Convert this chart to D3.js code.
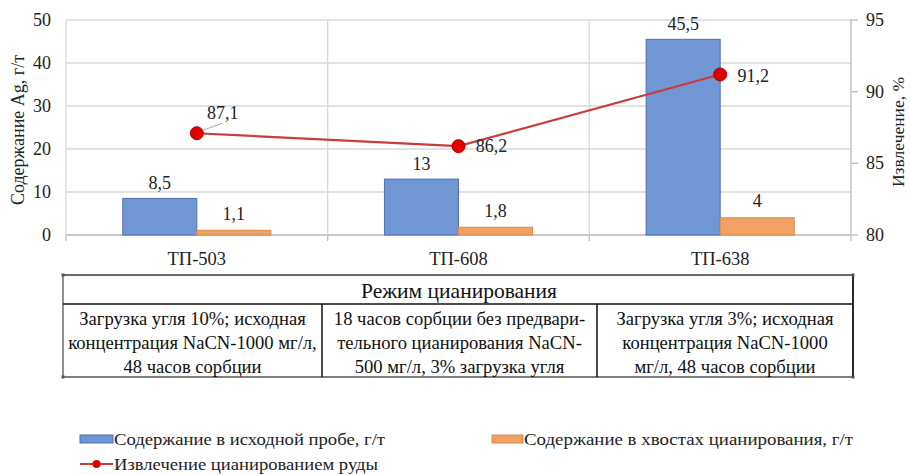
<!DOCTYPE html>
<html><head><meta charset="utf-8">
<script src="https://cdn.jsdelivr.net/npm/d3@7"></script>
<style>
html,body{margin:0;padding:0;background:#fff;}
svg{display:block;}
</style></head>
<body><svg id="c" width="910" height="475"></svg>
<script>
const categories = ["ТП-503", "ТП-608", "ТП-638"];
const initialContent = [8.5, 13, 45.5];
const tailsContent = [1.1, 1.8, 4];
const recovery = [87.1, 86.2, 91.2];
const leftTicks = [0, 10, 20, 30, 40, 50];
const rightTicks = [80, 85, 90, 95];
const seriesNames = ["Содержание в исходной пробе, г/т", "Содержание в хвостах  цианирования, г/т", "Извлечение цианированием руды"];
const leftTitle = "Содержание Ag, г/т";
const rightTitle = "Извлечение, %";
const tableHeader = "Режим цианирования";
const tableCells = [
  ["Загрузка угля 10%; исходная", "концентрация NaCN-1000 мг/л,", "48 часов сорбции"],
  ["18 часов сорбции без предвари-", "тельного цианирования NaCN-", "500 мг/л, 3% загрузка угля"],
  ["Загрузка угля 3%; исходная", "концентрация NaCN-1000", "мг/л, 48 часов сорбции"]
];
const fmt = v => String(v).replace(".", ",");

const svg = d3.select("#c");
const L = 66, R = 851, T = 20, B = 235;
const x = d3.scaleBand().domain(categories).range([L, R]).padding(0);
const bw = x.bandwidth();
const x1 = d3.scaleBand().domain(["a", "b"]).range([bw * 0.217, bw * 0.783]).padding(0);
const yL = d3.scaleLinear().domain([0, 50]).range([B, T]);
const yR = d3.scaleLinear().domain([80, 95]).range([B, T]);

// gridlines
svg.append("g").selectAll("line").data(leftTicks).join("line")
  .attr("x1", L).attr("x2", R).attr("y1", d => yL(d)).attr("y2", d => yL(d))
  .attr("stroke", "#d9d9d9").attr("stroke-width", 1.3);
svg.append("g").selectAll("line").data(categories.slice(1)).join("line")
  .attr("x1", d => x(d)).attr("x2", d => x(d)).attr("y1", T).attr("y2", B)
  .attr("stroke", "#d9d9d9").attr("stroke-width", 1.3);
svg.append("line").attr("x1", L).attr("x2", L).attr("y1", T).attr("y2", B).attr("stroke", "#d9d9d9").attr("stroke-width", 1.3);

// x axis line + ticks
svg.append("line").attr("x1", L).attr("x2", R).attr("y1", B).attr("y2", B).attr("stroke", "#bfbfbf").attr("stroke-width", 1.3);
svg.append("g").selectAll("line").data([...categories.map(c => x(c)), R]).join("line")
  .attr("x1", d => d).attr("x2", d => d).attr("y1", B).attr("y2", B + 6).attr("stroke", "#bfbfbf").attr("stroke-width", 1.3);

// right axis line + ticks
svg.append("line").attr("x1", R).attr("x2", R).attr("y1", T).attr("y2", B).attr("stroke", "#bfbfbf").attr("stroke-width", 1.3);
svg.append("g").selectAll("line").data(rightTicks).join("line")
  .attr("x1", R).attr("x2", R + 7).attr("y1", d => yR(d)).attr("y2", d => yR(d)).attr("stroke", "#bfbfbf").attr("stroke-width", 1.3);

// tick labels
svg.append("g").selectAll("text").data(leftTicks).join("text")
  .attr("x", 51).attr("y", d => yL(d) + 6).attr("text-anchor", "end")
  .attr("font-size", 18).attr("fill", "#222").text(d => d);
svg.append("g").selectAll("text").data(rightTicks).join("text")
  .attr("x", 866).attr("y", d => yR(d) + 6).attr("text-anchor", "start")
  .attr("font-size", 18).attr("fill", "#222").text(d => d);
svg.append("g").selectAll("text").data(categories).join("text")
  .attr("x", d => x(d) + bw / 2).attr("y", 264.5).attr("text-anchor", "middle")
  .attr("font-size", 18.5).attr("fill", "#222").text(d => d);

// axis titles
svg.append("text").attr("transform", "translate(24,130) rotate(-90)").attr("text-anchor", "middle")
  .attr("font-size", 18).attr("fill", "#222").text(leftTitle);
svg.append("text").attr("transform", "translate(904,132) rotate(-90)").attr("text-anchor", "middle")
  .attr("font-size", 17.5).attr("fill", "#222").text(rightTitle);

// bars
const g = svg.append("g");
g.selectAll("rect.a").data(initialContent).join("rect").attr("class", "a")
  .attr("x", (d, i) => x(categories[i]) + x1("a")).attr("width", x1.bandwidth())
  .attr("y", d => yL(d)).attr("height", d => yL(0) - yL(d))
  .attr("fill", "#7096d3").attr("stroke", "#4d70b3").attr("stroke-width", 1);
g.selectAll("rect.b").data(tailsContent).join("rect").attr("class", "b")
  .attr("x", (d, i) => x(categories[i]) + x1("b")).attr("width", x1.bandwidth())
  .attr("y", d => yL(d)).attr("height", d => yL(0) - yL(d))
  .attr("fill", "#f0a163").attr("stroke", "#d98a4c").attr("stroke-width", 1);

// bar labels
g.selectAll("text.a").data(initialContent).join("text").attr("class", "a")
  .attr("x", (d, i) => x(categories[i]) + x1("a") + x1.bandwidth() / 2)
  .attr("y", d => yL(d) - 9.5).attr("text-anchor", "middle")
  .attr("font-size", 18).attr("fill", "#222").text(fmt);
g.selectAll("text.b").data(tailsContent).join("text").attr("class", "b")
  .attr("x", (d, i) => x(categories[i]) + x1("b") + x1.bandwidth() / 2)
  .attr("y", d => yL(d) - 10.5).attr("text-anchor", "middle")
  .attr("font-size", 18).attr("fill", "#222").text(fmt);

// line
const cx = i => x(categories[i]) + bw / 2;
const line = d3.line().x((d, i) => cx(i)).y(d => yR(d));
svg.append("path").datum(recovery).attr("d", line).attr("fill", "none")
  .attr("stroke", "#cc3b3b").attr("stroke-width", 2.2);
svg.append("g").selectAll("circle").data(recovery).join("circle")
  .attr("cx", (d, i) => cx(i)).attr("cy", d => yR(d)).attr("r", 6.5)
  .attr("fill", "#e00000").attr("stroke", "#b00000").attr("stroke-width", 1);

// line labels
const lblOff = [[26, -14], [33, 6], [33, 7.5]];
svg.append("line").attr("x1", cx(0) + 6).attr("y1", yR(recovery[0]) - 3)
  .attr("x2", cx(0) + 26).attr("y2", yR(recovery[0]) - 10).attr("stroke", "#a6a6a6").attr("stroke-width", 1);
svg.append("g").selectAll("text").data(recovery).join("text")
  .attr("x", (d, i) => cx(i) + lblOff[i][0]).attr("y", (d, i) => yR(d) + lblOff[i][1])
  .attr("text-anchor", "middle").attr("font-size", 18).attr("fill", "#222").text(fmt);

// table
const tL = 63, tR = 853, tT = 275, tM = 304, tB = 377;
const cols = [63, 322, 597, 853];
const tg = svg.append("g");
tg.append("line").attr("x1", tL).attr("x2", tR).attr("y1", tT).attr("y2", tT).attr("stroke", "#6b6b6b").attr("stroke-width", 1.8);
tg.append("line").attr("x1", tL).attr("x2", tL).attr("y1", tT).attr("y2", tB).attr("stroke", "#555").attr("stroke-width", 1.3);
tg.append("line").attr("x1", tR).attr("x2", tR).attr("y1", tT).attr("y2", tB).attr("stroke", "#111").attr("stroke-width", 1.8);
tg.append("line").attr("x1", tL).attr("x2", tR).attr("y1", tB).attr("y2", tB).attr("stroke", "#555").attr("stroke-width", 1.3);
tg.append("line").attr("x1", tL).attr("x2", tR).attr("y1", tM).attr("y2", tM).attr("stroke", "#111").attr("stroke-width", 1.5);
tg.selectAll("line.c").data(cols.slice(1, 3)).join("line").attr("class", "c")
  .attr("x1", d => d).attr("x2", d => d).attr("y1", tM).attr("y2", tB).attr("stroke", "#111").attr("stroke-width", 1.5);
tg.selectAll("rect.h").data([[tL, tT], [tR, tT], [tL, tB], [tR, tB]]).join("rect").attr("class", "h")
  .attr("x", d => d[0] - 1.5).attr("y", d => d[1] - 1.5).attr("width", 3).attr("height", 3).attr("fill", "#555");
tg.append("text").attr("x", 459).attr("y", 298).attr("text-anchor", "middle")
  .attr("font-size", 21.5).attr("fill", "#111").text(tableHeader);
tableCells.forEach((lines, ci) => {
  tg.append("g").selectAll("text").data(lines).join("text")
    .attr("x", (cols[ci] + cols[ci + 1]) / 2).attr("y", (d, li) => 325 + li * 24)
    .attr("text-anchor", "middle").attr("font-size", 18.6).attr("fill", "#111").text(d => d);
});

// legend
const lg = svg.append("g").attr("font-size", 17).attr("fill", "#222");
lg.append("rect").attr("x", 80).attr("y", 435).attr("width", 33).attr("height", 8).attr("fill", "#7096d3").attr("stroke", "#4d70b3");
lg.append("text").attr("x", 114).attr("y", 445).attr("textLength", 271).attr("lengthAdjust", "spacingAndGlyphs").text(seriesNames[0]);
lg.append("rect").attr("x", 492).attr("y", 435).attr("width", 31).attr("height", 8).attr("fill", "#f0a163").attr("stroke", "#d98a4c");
lg.append("text").attr("x", 524).attr("y", 445).attr("textLength", 329).attr("lengthAdjust", "spacingAndGlyphs").text(seriesNames[1]);
lg.append("line").attr("x1", 80).attr("x2", 113).attr("y1", 464).attr("y2", 464).attr("stroke", "#cc3b3b").attr("stroke-width", 2.2);
lg.append("circle").attr("cx", 96.5).attr("cy", 464).attr("r", 4).attr("fill", "#e00000");
lg.append("text").attr("x", 114).attr("y", 470).attr("textLength", 264).attr("lengthAdjust", "spacingAndGlyphs").text(seriesNames[2]);

svg.selectAll("text").style("font-family", "'Liberation Serif', serif");
</script></body></html>
